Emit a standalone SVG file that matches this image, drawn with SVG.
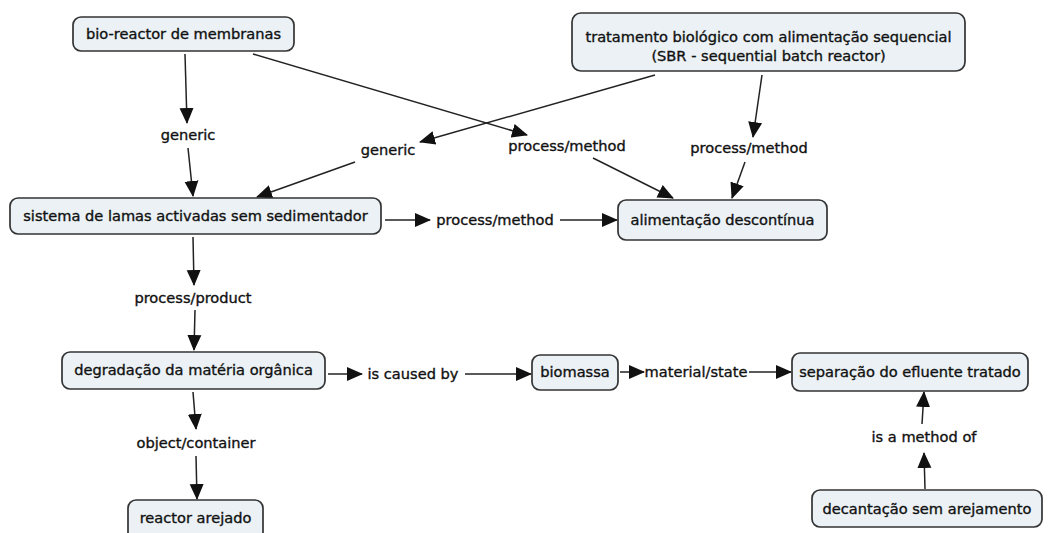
<svg xmlns="http://www.w3.org/2000/svg" width="1051" height="533" viewBox="0 0 1051 533">
  <defs>
    <marker id="arrow" markerUnits="userSpaceOnUse" markerWidth="16" markerHeight="16" viewBox="0 0 16 16" refX="15" refY="8" orient="auto">
      <path d="M0,1 L16,8 L0,15 Z" fill="#111"/>
    </marker>
    <style>
      .node rect { fill: #ebf1f5; stroke: #333333; stroke-width: 1.7; }
      text { font-family: "DejaVu Sans", Verdana, sans-serif; font-size: 14.6px; fill: #111; stroke: #111; stroke-width: 0.35; text-anchor: middle; }
      .conn line { stroke: #222; stroke-width: 1.5; marker-end: url(#arrow); }
    </style>
  </defs>
  <rect width="1051" height="533" fill="#ffffff"/>

  <!-- connectors -->
  <g id="connectors" class="conn">
    <!-- bio-reactor -> generic -> sistema -->
    <line x1="185" y1="54" x2="187" y2="123"/>
    <line x1="188" y1="148" x2="193" y2="196"/>
    <!-- bio-reactor -> process/method -> alimentacao -->
    <line x1="253" y1="54" x2="527" y2="135"/>
    <line x1="593" y1="158" x2="673" y2="198"/>
    <!-- SBR -> generic -> sistema -->
    <line x1="655" y1="75" x2="420" y2="142"/>
    <line x1="355" y1="162" x2="257" y2="197"/>
    <!-- SBR -> process/method -> alimentacao -->
    <line x1="762" y1="75" x2="753" y2="137"/>
    <line x1="745" y1="162" x2="732" y2="198"/>
    <!-- sistema -> process/method -> alimentacao -->
    <line x1="385" y1="220" x2="430" y2="220"/>
    <line x1="560" y1="220" x2="617" y2="220"/>
    <!-- sistema -> process/product -> degradacao -->
    <line x1="193" y1="237" x2="194" y2="285"/>
    <line x1="195" y1="310" x2="194" y2="350"/>
    <!-- degradacao -> object/container -> reactor arejado -->
    <line x1="193" y1="392" x2="196" y2="429"/>
    <line x1="196" y1="456" x2="197" y2="499"/>
    <!-- degradacao -> is caused by -> biomassa -->
    <line x1="328" y1="374" x2="362" y2="374"/>
    <line x1="465" y1="374" x2="531" y2="374"/>
    <!-- biomassa -> material/state -> separacao -->
    <line x1="620" y1="372" x2="644" y2="372"/>
    <line x1="749" y1="372" x2="791" y2="372"/>
    <!-- decantacao -> is a method of -> separacao -->
    <line x1="925" y1="489" x2="924" y2="453"/>
    <line x1="922" y1="424" x2="924" y2="392"/>
  </g>

  <!-- linking phrases -->
  <g id="labels">
    <text x="188" y="140">generic</text>
    <text x="388" y="155">generic</text>
    <text x="567" y="151">process/method</text>
    <text x="749" y="153">process/method</text>
    <text x="495" y="225">process/method</text>
    <text x="193" y="303">process/product</text>
    <text x="196" y="448">object/container</text>
    <text x="413" y="379">is caused by</text>
    <text x="696" y="377">material/state</text>
    <text x="924" y="442">is a method of</text>
  </g>

  <!-- concepts -->
  <g id="node-bioreactor" class="node">
    <rect x="73" y="17" width="221" height="34" rx="8"/>
    <text x="183.5" y="39">bio-reactor de membranas</text>
  </g>
  <g id="node-sbr" class="node">
    <rect x="572" y="13" width="393" height="58" rx="9"/>
    <text x="768.5" y="42">tratamento biológico com alimentação sequencial</text>
    <text x="768.5" y="61">(SBR - sequential batch reactor)</text>
  </g>
  <g id="node-sistema" class="node">
    <rect x="10" y="198" width="371" height="36" rx="8"/>
    <text x="195.5" y="221">sistema de lamas activadas sem sedimentador</text>
  </g>
  <g id="node-alimentacao" class="node">
    <rect x="618" y="200" width="209" height="40" rx="8"/>
    <text x="722.5" y="225">alimentação descontínua</text>
  </g>
  <g id="node-degradacao" class="node">
    <rect x="62" y="352" width="263" height="37" rx="8"/>
    <text x="193.5" y="375">degradação da matéria orgânica</text>
  </g>
  <g id="node-biomassa" class="node">
    <rect x="532" y="355" width="86" height="35" rx="8"/>
    <text x="575" y="377">biomassa</text>
  </g>
  <g id="node-separacao" class="node">
    <rect x="792" y="353" width="236" height="38" rx="8"/>
    <text x="910" y="377">separação do efluente tratado</text>
  </g>
  <g id="node-reactor" class="node">
    <rect x="128" y="500" width="135" height="40" rx="8"/>
    <text x="195.5" y="523">reactor arejado</text>
  </g>
  <g id="node-decantacao" class="node">
    <rect x="812" y="490" width="230" height="37" rx="8"/>
    <text x="927" y="514">decantação sem arejamento</text>
  </g>
</svg>
